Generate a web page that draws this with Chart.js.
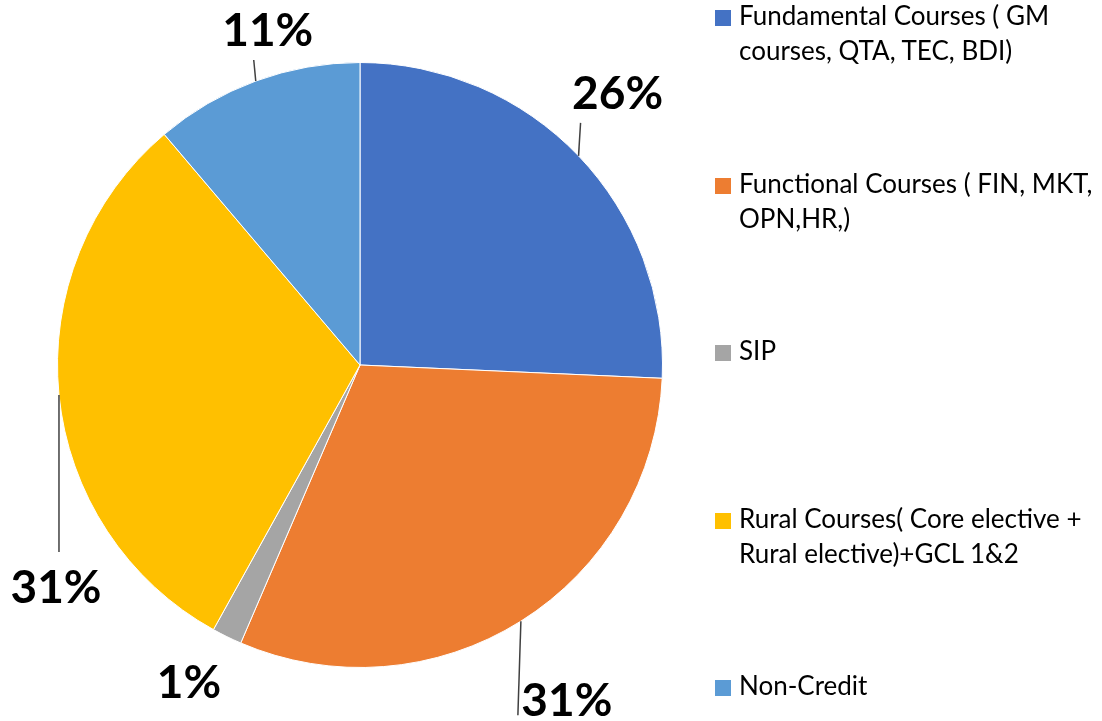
<!DOCTYPE html>
<html>
<head>
<meta charset="utf-8">
<script src="https://cdn.jsdelivr.net/npm/chart.js@4/dist/chart.umd.min.js"></script>
<style>
    html, body { margin: 0; padding: 0; background: #fff; }
    #wrap { position: relative; width: 1102px; height: 721px; overflow: hidden; }
    #pie-chart { position: absolute; left: 0; top: 0; }
    .legend-item { position: absolute; left: 715px; width: 387px; font-family: Lato, "Open Sans", sans-serif; font-size: 26px; line-height: 35px; color: #000; }
    .legend-box { position: absolute; left: 0; top: 10px; width: 16px; height: 16px; }
    .legend-text { position: absolute; left: 24px; top: -2px; white-space: nowrap; }
</style>
</head>
<body>
<div id="wrap">
    <canvas id="pie-chart" width="1102" height="721"></canvas>
</div>
<script>
// カテゴリ(凡例は2行に分けて表示)
const categories = [
    ['Fundamental Courses ( GM', 'courses, QTA, TEC, BDI)'],
    ['Functional Courses ( FIN, MKT,', 'OPN,HR,)'],
    ['SIP'],
    ['Rural Courses( Core elective +', 'Rural elective)+GCL 1&2'],
    ['Non-Credit']
];
const shares = [25.7, 30.75, 1.6, 30.75, 11.2];
const percentLabels = ['26%', '31%', '1%', '31%', '11%'];
const sliceColors = ['#4472C4', '#ED7D31', '#A5A5A5', '#FFC000', '#5B9BD5'];

// ラベル位置: 外周の中点からのずれ (引出線の先端, 文字の基準点)
const labelOffsets = [
    { line: [2, -33], text: [39, -47] },
    { line: [-3, 94], text: [46, 95] },
    { line: null, text: [-38, 61] },
    { line: [0, 157], text: [-3, 208] },
    { line: [-2, -21], text: [12, -35] }
];

const pieLabelPlugin = {
    id: 'pieLabels',
    afterDatasetsDraw(chart) {
        const ctx = chart.ctx;
        const meta = chart.getDatasetMeta(0);
        ctx.save();
        meta.data.forEach((arc, i) => {
            const p = arc.getProps(['x', 'y', 'startAngle', 'endAngle', 'outerRadius'], true);
            const mid = (p.startAngle + p.endAngle) / 2;
            const ex = p.x + Math.cos(mid) * p.outerRadius;
            const ey = p.y + Math.sin(mid) * p.outerRadius;
            const off = labelOffsets[i];
            if (off.line) {
                ctx.strokeStyle = '#404040';
                ctx.lineWidth = 1.5;
                ctx.beginPath();
                ctx.moveTo(ex, ey);
                ctx.lineTo(ex + off.line[0], ey + off.line[1]);
                ctx.stroke();
            }
            ctx.fillStyle = '#000';
            ctx.font = 'bold 46px Lato, "Open Sans", sans-serif';
            ctx.textAlign = 'center';
            ctx.textBaseline = 'alphabetic';
            ctx.fillText(percentLabels[i], ex + off.text[0], ey + off.text[1]);
        });
        ctx.restore();
    }
};

function buildLegend() {
    const wrap = document.getElementById('wrap');
    categories.forEach((lines, i) => {
        const item = document.createElement('div');
        item.className = 'legend-item';
        item.style.top = (i * 167.5) + 'px';
        const box = document.createElement('div');
        box.className = 'legend-box';
        box.style.background = sliceColors[i];
        const text = document.createElement('div');
        text.className = 'legend-text';
        text.innerHTML = lines.map(l => l.replace(/&/g, '&amp;')).join('<br>');
        item.appendChild(box);
        item.appendChild(text);
        wrap.appendChild(item);
    });
}

const ctx = document.getElementById('pie-chart').getContext('2d');
new Chart(ctx, {
    type: 'pie',
    data: {
        labels: categories.map(l => l.join(' ')),
        datasets: [{
            data: shares,
            backgroundColor: sliceColors,
            borderColor: '#ffffff',
            borderWidth: 1
        }]
    },
    options: {
        responsive: false,
        animation: false,
        layout: { padding: { left: 57, top: 62, right: 439, bottom: 53 } },
        plugins: {
            legend: { display: false },
            tooltip: { enabled: false }
        }
    },
    plugins: [pieLabelPlugin]
});
buildLegend();
</script>
</body>
</html>
